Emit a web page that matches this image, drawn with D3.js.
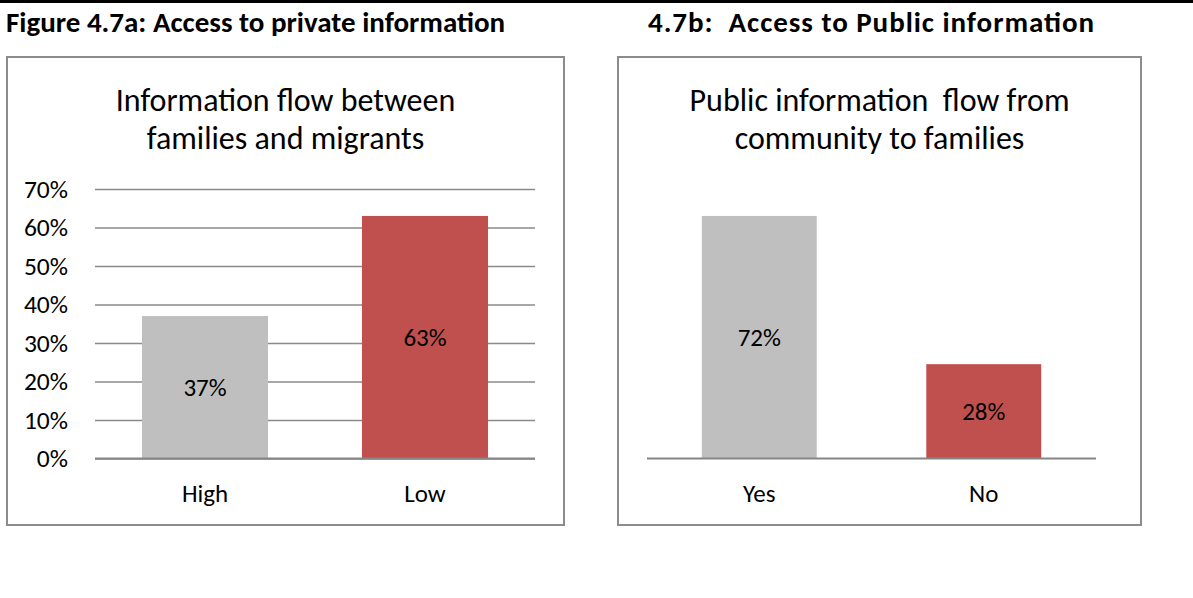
<!DOCTYPE html>
<html>
<head>
<meta charset="utf-8">
<script src="https://cdn.jsdelivr.net/npm/d3@7"></script>
<style>
  body { margin: 0; background: #fff; }
  text { font-family: Carlito, Calibri, Lato, "Open Sans", sans-serif; fill: #000; }
</style>
</head>
<body>
<svg id="fig" width="1193" height="598"></svg>
<script>
// ---- data ----
const privateCategories = ["High", "Low"];
const privateValues = [0.37, 0.63];
const privateTicks = [0, 0.1, 0.2, 0.3, 0.4, 0.5, 0.6, 0.7];
const privateTitle = ["Information flow between", "families and migrants"];

const publicCategories = ["Yes", "No"];
const publicValues = [0.72, 0.28];
const publicTitle = ["Public information  flow from", "community to families"];

const figureTitles = ["Figure 4.7a: Access to private information", "4.7b:  Access to Public information"];
const barColors = ["#bfbfbf", "#c0504d"];

const svg = d3.select("#fig");
const fmt = d3.format(".0%");

svg.append("rect").attr("width", 1193).attr("height", 598).attr("fill", "#fff");
// heavy rule across the top of the page
svg.append("rect").attr("x", 0).attr("y", 0).attr("width", 1193).attr("height", 3).attr("fill", "#000");

svg.append("text").attr("x", 6).attr("y", 32)
  .attr("font-size", 29).attr("font-weight", "bold")
  .text(figureTitles[0]);
svg.append("text").attr("x", 648).attr("y", 32)
  .attr("font-size", 29).attr("font-weight", "bold")
  .attr("textLength", 446).attr("lengthAdjust", "spacing")
  .style("white-space", "pre")
  .text(figureTitles[1]);

function drawPanel(opt) {
  const g = svg.append("g");
  // chart frame
  g.append("rect")
    .attr("x", opt.box[0]).attr("y", opt.box[1])
    .attr("width", opt.box[2] - opt.box[0]).attr("height", opt.box[3] - opt.box[1])
    .attr("fill", "#fff").attr("stroke", "#8c8c8c").attr("stroke-width", 2);

  const cx = (opt.box[0] + opt.box[2]) / 2;
  g.append("text")
    .attr("text-anchor", "middle")
    .attr("font-size", 32)
    .style("white-space", "pre")
    .selectAll("tspan").data(opt.title).join("tspan")
    .attr("x", cx)
    .attr("y", (d, i) => 111 + i * 38)
    .text(d => d);

  const x = d3.scaleBand()
    .domain(opt.cats)
    .range([opt.plot[0], opt.plot[2]])
    .paddingInner(opt.pad).paddingOuter(opt.pad / 2);
  const y = d3.scaleLinear().domain(opt.yDomain).range([opt.plot[3], opt.plot[1]]);

  if (opt.ticks) {
    const grid = d3.axisLeft(y).tickValues(opt.ticks)
      .tickSize(-(opt.plot[2] - opt.plot[0])).tickFormat(fmt).tickPadding(27);
    const ga = g.append("g").attr("transform", `translate(${opt.plot[0]},0)`).call(grid);
    ga.select(".domain").remove();
    ga.selectAll(".tick line").attr("stroke", "#8a8a8a").attr("stroke-width", 1.5);
    ga.selectAll(".tick text").attr("font-size", 25.5).attr("font-family", null).attr("fill", "#000");
  }

  g.selectAll("rect.bar").data(opt.vals).join("rect")
    .attr("class", "bar")
    .attr("x", (d, i) => x(opt.cats[i]))
    .attr("width", x.bandwidth())
    .attr("y", d => y(d))
    .attr("height", d => y(0) - y(d))
    .attr("fill", (d, i) => barColors[i]);

  // category axis line
  g.append("line")
    .attr("x1", opt.plot[0]).attr("x2", opt.plot[2])
    .attr("y1", y(0)).attr("y2", y(0))
    .attr("stroke", "#868686").attr("stroke-width", 2);

  g.selectAll("text.val").data(opt.vals).join("text")
    .attr("class", "val")
    .attr("x", (d, i) => x(opt.cats[i]) + x.bandwidth() / 2)
    .attr("y", d => (y(d) + y(0)) / 2)
    .attr("dy", "0.35em")
    .attr("text-anchor", "middle")
    .attr("font-size", 25)
    .text(d => fmt(d));

  g.selectAll("text.cat").data(opt.cats).join("text")
    .attr("class", "cat")
    .attr("x", d => x(d) + x.bandwidth() / 2)
    .attr("y", 493)
    .attr("dy", "0.35em")
    .attr("text-anchor", "middle")
    .attr("font-size", 25)
    .text(d => d);
}

drawPanel({
  box: [7, 57, 564, 525],
  plot: [95, 189, 535, 458.5],
  cats: privateCategories,
  vals: privateValues,
  yDomain: [0, 0.7],
  ticks: privateTicks,
  pad: 0.427,
  title: privateTitle
});

drawPanel({
  box: [618, 57, 1141, 525],
  plot: [647, 189, 1096, 458.5],
  cats: publicCategories,
  vals: publicValues,
  yDomain: [0, 0.8],
  ticks: null,
  pad: 0.488,
  title: publicTitle
});
</script>
</body>
</html>
